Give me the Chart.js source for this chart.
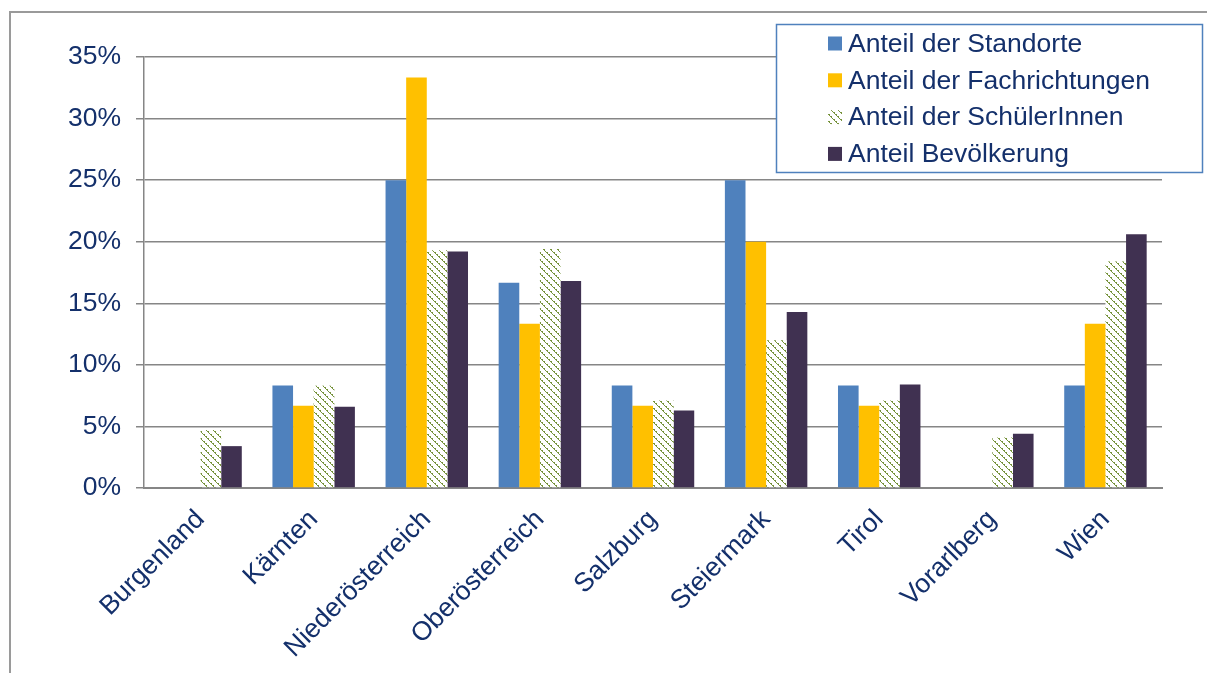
<!DOCTYPE html>
<html lang="de">
<head>
  <meta charset="UTF-8" />
  <title>Anteile nach Bundesland</title>
  <script src="https://cdn.jsdelivr.net/npm/chart.js"></script>
  <style>
    html, body { margin: 0; padding: 0; background: #fff; overflow: hidden; }
    #wrap { position: relative; width: 1207px; height: 673px; }
    #rahmen { position: absolute; left: 9px; top: 11px; width: 1400px; height: 900px; border: 2px solid #9a9a9a; }
    #grafik { position: absolute; left: 0; top: 0; }
  </style>
</head>
<body>
  <div id="wrap">
    <div id="rahmen"></div>
    <canvas id="grafik" width="1207" height="673"></canvas>
  </div>

  <script>
    const bundeslaender = ["Burgenland", "Kärnten", "Niederösterreich", "Oberösterreich", "Salzburg", "Steiermark", "Tirol", "Vorarlberg", "Wien"];
    const standorte = [0, 8.33, 25, 16.67, 8.33, 25, 8.33, 0, 8.33];
    const fachrichtungen = [0, 6.67, 33.33, 13.33, 6.67, 20, 6.67, 0, 13.33];
    const schueler = [4.7, 8.3, 19.3, 19.4, 7.1, 12.0, 7.1, 4.1, 18.4];
    const bevoelkerung = [3.4, 6.6, 19.2, 16.8, 6.3, 14.3, 8.4, 4.4, 20.6];
    const yTicks = [0, 5, 10, 15, 20, 25, 30, 35];

    const textFarbe = "#14306b";
    const schrift = { family: "'Liberation Sans', Arial, sans-serif", size: 26.5 };

    // Schraffur fuer die SchuelerInnen-Balken: gestrichelte Diagonalen
    function schraffur() {
      const n = 7;
      const c = document.createElement("canvas");
      c.width = n; c.height = n;
      const g = c.getContext("2d");
      g.fillStyle = "#ffffff";
      g.fillRect(0, 0, n, n);
      g.fillStyle = "#77933c";
      for (let i = 0; i < n; i++) {
        if (i % 2 === 0) g.fillRect(i, i, 2, 1);
        else g.fillRect(i, i, 1, 1);
      }
      return document.getElementById("grafik").getContext("2d").createPattern(c, "repeat");
    }
    const muster = schraffur();

    const legendePlugin = {
      id: "legendeBox",
      afterDraw(chart) {
        const ctx = chart.ctx;
        ctx.save();
        ctx.fillStyle = "#ffffff";
        ctx.fillRect(776, 24, 426, 148);
        ctx.strokeStyle = "#4f81bd";
        ctx.lineWidth = 1.5;
        ctx.strokeRect(776.5, 24.5, 426, 148);
        ctx.font = "26.5px 'Liberation Sans', Arial, sans-serif";
        ctx.textBaseline = "middle";
        chart.data.datasets.forEach((ds, i) => {
          const y = 43.5 + i * 36.8;
          ctx.fillStyle = ds.backgroundColor;
          ctx.fillRect(828, y - 7, 14, 14);
          ctx.fillStyle = textFarbe;
          ctx.fillText(ds.label, 848, y + 1);
        });
        ctx.restore();
      }
    };

    new Chart(document.getElementById("grafik").getContext("2d"), {
      type: "bar",
      data: {
        labels: bundeslaender,
        datasets: [
          { label: "Anteil der Standorte", data: standorte, backgroundColor: "#4f81bd" },
          { label: "Anteil der Fachrichtungen", data: fachrichtungen, backgroundColor: "#ffc000" },
          { label: "Anteil der SchülerInnen", data: schueler, backgroundColor: muster },
          { label: "Anteil Bevölkerung", data: bevoelkerung, backgroundColor: "#403151" }
        ]
      },
      options: {
        responsive: false,
        animation: false,
        layout: { padding: { left: 0, top: 57, right: 45, bottom: 0 } },
        datasets: { bar: { categoryPercentage: 0.729, barPercentage: 1 } },
        plugins: { legend: { display: false }, tooltip: { enabled: false } },
        scales: {
          x: {
            grid: { display: false },
            border: { display: true, color: "#868686", width: 2 },
            ticks: { color: textFarbe, font: schrift, minRotation: 45, maxRotation: 45, padding: 8 },
            afterFit(s) { s.height = 185; }
          },
          y: {
            min: 0,
            max: 35,
            afterBuildTicks(s) { s.ticks = yTicks.map(v => ({ value: v })); },
            grid: { color: "#868686", lineWidth: 1.5, tickLength: 8 },
            border: { display: true, color: "#868686", width: 1.5 },
            ticks: { color: textFarbe, font: schrift, padding: 15, callback: v => v + "%" },
            afterFit(s) { s.width = 144; }
          }
        }
      },
      plugins: [legendePlugin]
    });
  </script>
</body>
</html>
